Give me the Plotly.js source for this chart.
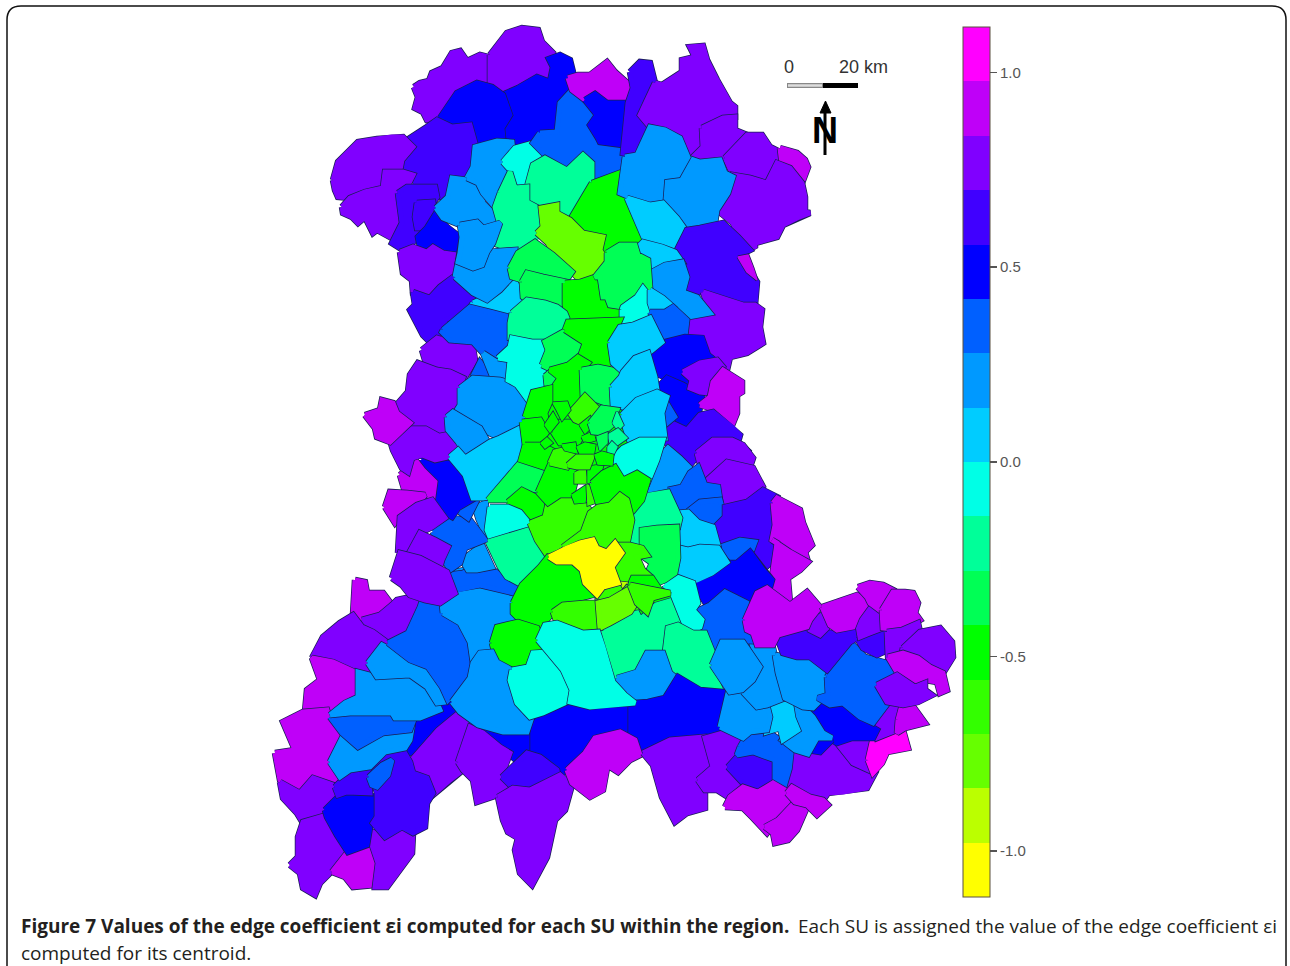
<!DOCTYPE html>
<html><head><meta charset="utf-8">
<script src="https://cdn.plot.ly/plotly-3.0.1.min.js"></script>
<style>html,body{margin:0;padding:0;background:#fff}#chart{width:1290px;height:966px}</style>
</head><body><div id="chart"></div>
<script>
const bandColors=['#ff00ff','#bf00f8','#8000ff','#4000ff','#0000ff','#0060ff','#0099ff','#00ccff','#00ffe6','#00ff99','#00ff55','#00ff00','#33ff00','#66ff00','#bbff00','#ffff00'];
const valueMax=1.1165, valueMin=-1.1175;
const colorTicks=[1,0.5,0,-0.5,-1];
const colorTickLabels=['1.0','0.5','0.0','-0.5','-1.0'];
const captionBold='Figure 7 Values of the edge coefficient εi computed for each SU within the region.';
const captionRest='Each SU is assigned the value of the edge coefficient εi';
const captionLine2='computed for its centroid.';
// each region: estimated coefficient, then its outline (x,y pairs)
const regions=[
[-.49,550,400,615,400,630,440,620,470,550,470,525,440],
[.77,414,87,420,83,429,81,432,73,443,68,452,53,460,51,467,61,480,55,492,58,490,73,492,85,477,83,460,92,450,108,437,120,427,120,423,112,415,108,418,97],
[.77,490,55,507,33,522,28,538,30,542,42,553,53,550,67,552,82,537,77,518,88,502,93,490,83],
[.49,502,95,518,88,537,77,550,82,553,67,549,59,560,55,570,60,573,72,569,80,572,90,560,103,560,120,557,132,540,133,533,143,512,142,502,128,510,113],
[.49,440,118,457,93,477,83,492,87,503,95,510,115,502,128,503,138,483,143,473,142,470,125,450,127],
[.63,427,127,437,120,452,127,470,125,475,143,473,167,467,177,452,178,447,197,437,197,435,187,417,187,413,175,400,170,402,160,413,147,407,140],
[.77,333,180,338,162,348,152,358,142,377,139,392,137,403,137,413,147,402,160,400,170,385,170,385,187,365,192,350,198,338,197,335,190],
[.77,342,207,350,198,365,192,383,188,385,172,403,172,413,175,407,187,398,193,402,220,398,232,390,237,377,230,373,233,365,217,358,223,352,217,343,213],
[.63,398,193,407,187,435,187,437,197,433,203,417,203,415,217,417,230,420,233,413,242,403,250,392,243,402,223],
[.63,417,203,433,202,435,217,427,228,417,228,415,217],
[.49,427,228,435,215,447,227,460,237,457,253,435,250,432,247,420,247,418,237],
[.77,400,252,413,247,427,252,433,247,443,253,457,255,457,277,440,287,430,297,413,293,412,280,403,273],
[.63,413,292,430,298,440,287,452,278,467,290,477,297,470,310,445,320,443,330,430,342,423,335,410,310,415,305],
[.21,436,208,448,197,452,178,467,180,478,185,483,203,497,217,492,225,483,228,477,222,460,225,443,218],
[.21,467,178,473,167,475,147,497,141,512,142,513,152,503,162,510,172,500,193,495,207,483,193,478,183],
[-.07,503,162,515,148,533,143,545,155,533,165,527,187,515,188,512,172],
[.35,540,133,557,132,560,103,572,90,585,102,597,115,590,125,598,138,620,145,622,145,623,172,592,183,592,163,583,155,567,170,545,155,533,143],
[-.21,527,187,533,165,545,158,567,170,583,155,592,163,592,183,573,218,557,213,557,205,540,208,527,202],
[-.21,500,193,510,172,515,188,527,187,527,202,542,210,542,227,535,240,528,250,513,250,493,243,500,225,495,207],
[-.49,592,183,620,172,622,172,620,193,628,208,645,238,635,245,617,247,608,253,600,242,603,237,583,233,570,220],
[-.77,537,233,543,227,541,208,557,205,557,213,570,220,583,233,603,237,600,250,607,262,595,277,580,280,570,270,553,253,548,243],
[.91,568,78,578,75,590,75,607,62,615,72,633,88,623,100,613,103,597,95,585,100,572,90],
[.49,585,100,595,94,607,103,613,103,628,103,623,145,600,142,598,138,590,125,597,115],
[.63,630,72,640,62,650,63,655,83,658,88,640,115,650,127,637,155,623,153,628,103,633,88],
[.77,655,83,662,85,682,72,682,60,695,57,690,47,703,46,707,60,717,80,730,103,735,107,735,117,723,118,702,128,703,147,695,155,688,155,680,137,662,127,650,127,640,115],
[.77,702,128,723,118,735,117,735,130,747,135,725,158,712,160,695,155,703,147],
[.77,725,158,747,135,762,135,770,147,780,152,777,162,767,183,747,177,733,175],
[.91,780,148,797,153,805,160,808,167,802,183,790,168,782,165],
[.77,717,210,732,187,733,175,750,178,767,183,777,163,790,168,802,183,805,197,805,212,810,213,797,218,783,225,777,237,755,243,755,248,738,237,733,223],
[.21,662,177,677,175,688,158,700,162,720,160,725,173,733,177,728,193,717,210,715,223,700,230,687,228,670,208,662,202,662,190],
[.21,625,157,637,155,650,127,665,130,680,138,688,157,678,175,662,177,660,202,648,205,632,198,620,193],
[.07,627,198,640,202,650,205,663,203,677,218,687,232,675,252,662,247,645,240],
[.63,677,250,687,230,700,228,723,223,738,237,750,250,740,255,747,267,757,282,755,305,743,305,703,292,683,293,687,270],
[.91,738,257,748,255,753,268,757,280,747,272],
[.07,637,248,643,242,662,247,675,252,682,262,665,265,650,272,648,260,638,255],
[.77,703,292,743,305,755,305,762,310,760,327,763,343,747,353,730,357,727,370,720,360,708,353,705,338,687,337,687,320,690,317,710,313],
[.21,650,273,665,265,682,262,687,277,683,292,697,297,710,313,688,317,673,305,663,297,650,290],
[.77,422,350,437,338,450,342,472,342,475,360,465,377,450,370,437,368,425,360],
[.07,473,303,500,290,513,278,522,295,525,307,512,317,490,312,470,308],
[.35,443,330,463,313,470,307,490,312,510,317,508,345,495,357,482,352,473,342,450,340,442,332],
[.21,455,277,458,262,473,268,482,265,487,252,515,250,512,277,500,290,487,300,473,293],
[.21,460,225,477,222,483,228,492,225,500,223,493,243,487,252,482,265,473,268,458,262,460,253,462,237],
[-.35,510,268,518,253,535,242,553,255,572,272,565,282,543,277,527,273,522,280,512,277],
[-.35,522,282,527,273,543,277,567,282,565,303,557,307,545,300,527,300,523,297],
[-.49,565,283,580,282,595,277,600,277,603,297,617,305,622,313,620,320,585,318,567,317,565,305],
[-.21,512,313,527,300,545,303,557,307,565,313,567,318,565,330,547,338,530,342,510,338,510,323],
[-.35,607,253,620,245,635,245,638,255,648,260,650,288,637,290,623,307,610,305,607,297,603,297,600,277,595,277,607,262],
[-.07,622,310,623,307,637,297,643,288,650,297,650,310,650,313,633,323,622,327],
[.07,650,290,663,298,673,307,665,312,653,312,650,303],
[.35,650,312,665,312,673,307,683,317,687,320,685,337,665,340,662,330,650,313],
[.49,650,360,655,348,665,342,685,337,702,338,708,355,717,362,700,363,683,372,692,380,683,385,667,378,655,373],
[.49,657,388,667,378,683,385,692,390,702,397,698,417,688,430,678,420,668,400],
[.77,683,372,700,363,717,360,723,367,715,382,710,393,700,392,690,388,692,380],
[.91,700,405,710,397,713,382,723,370,742,382,742,392,737,395,737,413,733,423,723,420,710,408],
[.63,663,432,672,423,687,430,700,415,713,412,732,427,740,435,738,442,750,453,700,453,690,465,680,457,673,448,665,442],
[.35,662,423,663,405,668,402,677,417,670,423,663,429],
[.77,697,453,713,440,732,440,743,445,753,458,750,467,727,462,717,473,705,483,700,465],
[.77,705,482,727,462,753,468,763,487,760,495,747,502,735,507,725,503,718,488],
[.21,650,493,655,470,663,453,668,448,680,458,690,468,688,478,682,488,668,487,660,497],
[.35,668,490,682,487,690,473,698,467,705,485,718,487,720,500,700,502,687,512,678,507],
[.35,687,512,700,502,720,500,725,518,713,527,697,522],
[.63,717,537,715,527,725,517,725,507,747,502,763,490,777,497,772,510,777,537,770,563,765,568,755,550,755,542,740,540,722,545],
[.35,720,547,740,540,755,542,752,550,737,563,728,555],
[.91,773,503,777,498,800,510,803,523,812,545,805,552,808,562,790,552,772,540,775,525],
[.91,772,540,790,552,808,562,800,570,785,580,788,580,790,603,770,597,772,577,777,543],
[.49,695,582,712,573,723,563,737,563,750,552,763,570,772,580,770,587,757,590,747,600,728,592,717,603,708,607,698,590],
[.35,695,612,710,605,725,592,747,603,755,643,743,640,723,642,713,650,705,632,693,632,702,620],
[.07,677,513,688,512,698,522,713,527,718,545,700,547,687,550,678,540],
[.07,677,563,680,548,688,550,700,547,718,548,727,562,712,573,697,580,687,583,677,573],
[-.07,665,585,677,577,693,583,698,603,693,610,702,620,700,627,690,632,678,620,670,598],
[-.21,628,537,632,523,642,497,650,495,668,492,680,518,678,527,657,527,642,530,640,547,635,545],
[-.35,642,548,642,530,657,528,677,527,678,558,675,573,665,580,658,583,648,572,652,563,638,553],
[-.21,602,633,630,613,638,600,650,604,668,598,678,623,668,628,668,642,665,653,648,653,637,670,617,675,612,683,612,668],
[-.21,665,653,668,628,678,625,693,633,705,633,713,653,712,670,720,688,700,690,682,678,673,677,668,660],
[.21,617,678,637,672,647,653,663,653,670,673,675,677,665,698,648,702,635,702,625,695,618,688],
[.49,623,710,635,703,648,702,665,698,678,677,700,690,723,692,723,710,720,735,705,737,687,740,670,740,647,752,638,753,633,740,623,733],
[.49,527,733,543,713,570,702,590,707,603,705,625,705,625,733,595,738,585,753,567,765,562,775,545,765,528,753],
[.49,478,725,487,727,503,732,527,732,527,753,518,762,508,753,497,743,480,730],
[.49,405,748,415,742,415,725,437,713,443,705,455,703,460,712,437,730,425,745,410,753],
[.77,410,762,425,745,438,730,460,712,470,723,467,733,460,757,463,770,450,780,433,795,427,777,413,773],
[.77,458,762,470,727,483,733,500,747,510,753,502,775,513,793,498,795,477,802,473,780,463,770],
[.63,502,777,518,762,527,753,540,757,557,770,558,775,530,790,513,788],
[.77,498,797,513,788,530,790,560,775,572,785,565,810,555,820,547,857,532,885,520,873,515,850,518,838,508,832,503,820],
[.91,567,770,585,753,595,738,620,732,635,740,640,755,630,760,618,772,610,767,607,768,603,790,590,797,572,783],
[.77,643,753,670,740,705,737,713,763,698,780,705,792,705,808,687,813,675,822,662,797,653,765],
[.77,698,780,713,767,705,738,723,733,738,740,740,747,728,763,735,773,740,787,728,797,717,790,705,790],
[.63,728,767,737,757,753,752,773,760,775,780,767,795,743,783],
[.35,740,747,748,733,765,730,780,740,795,752,797,767,790,780,785,790,775,783,775,760,753,752,737,755],
[.77,795,770,797,752,810,753,837,745,853,763,875,773,867,788,843,792,828,793,823,800,807,797,790,787],
[.77,837,743,853,738,872,738,873,747,868,760,875,773,853,763],
[1.05,868,760,873,738,903,730,908,748,887,752,882,763,873,773],
[.77,873,723,883,710,900,703,897,730,877,738],
[.91,898,720,902,705,912,705,925,723,905,728,897,733],
[.49,813,717,818,700,830,705,845,703,860,720,877,730,873,738,852,738,837,743,823,735],
[.49,808,750,817,737,832,740,820,752],
[.21,790,700,803,707,813,717,823,733,832,738,817,738,808,754,795,750,782,740,790,730,793,717],
[.07,767,707,790,700,793,718,798,730,783,740,780,728,767,732,770,717],
[.21,720,727,728,693,742,695,757,707,767,705,770,717,767,730,750,732,743,738,733,733],
[.21,743,692,760,667,753,647,773,648,780,677,785,698,767,705,757,707],
[.21,775,655,797,658,818,662,827,677,828,693,813,708,803,707,785,698,778,673],
[.21,712,665,722,642,743,642,760,667,753,680,742,690,730,692,722,680],
[.35,827,677,837,662,850,642,865,657,887,663,897,675,877,683,888,703,873,723,860,717,843,703,830,705,818,698,828,695],
[.63,777,637,797,625,810,632,837,633,855,627,857,638,850,642,837,657,827,670,810,657,797,657,783,653],
[.63,858,640,870,633,887,630,888,650,877,655,863,648],
[.77,857,620,870,603,882,612,883,628,870,633,860,637],
[.77,810,622,822,615,830,625,820,635,810,630],
[.91,745,620,757,593,767,588,783,600,790,605,807,592,820,607,810,620,807,627,778,635,773,645,757,645,753,633,747,630],
[.91,822,607,837,602,857,595,868,602,857,617,853,627,837,630,830,625],
[.91,858,587,870,583,883,585,893,590,882,612,870,603,867,597],
[.91,882,610,893,592,905,592,913,593,918,603,915,613,920,620,902,630,883,628],
[.77,887,632,902,630,918,623,920,632,903,648,888,655],
[.70,903,648,920,632,940,628,952,642,953,657,943,673,930,667,917,657,902,653],
[.91,888,657,903,653,918,658,930,667,943,673,947,690,940,693,937,682,925,680,915,687,897,672],
[.77,877,685,897,675,915,687,925,683,925,690,932,695,918,702,903,705,887,702],
[.91,725,807,730,797,743,787,758,792,773,783,785,790,790,803,777,820,767,833,753,818,743,808],
[.91,765,827,778,820,795,802,807,807,797,830,788,840,775,843,773,833],
[.91,787,793,792,787,810,797,823,800,828,805,817,815,807,805,795,802],
[.91,355,580,365,582,367,593,383,593,392,605,380,617,370,613,360,625,353,615],
[.77,362,620,380,615,392,605,397,600,420,595,418,608,408,632,387,642,373,630],
[.77,312,658,323,637,340,623,353,615,362,627,373,632,388,643,370,657,368,665,377,677,357,672,333,660],
[.91,305,712,307,690,320,680,312,658,333,662,357,673,358,698,328,710,313,713],
[.91,275,753,295,750,283,722,303,712,327,710,332,727,343,735,332,760,340,777,332,782,313,777,302,793,280,780,277,767],
[.77,280,782,300,793,313,778,333,785,338,795,325,803,325,817,303,823,297,813,283,798],
[.77,290,865,298,857,298,837,303,822,327,815,338,835,347,847,333,870,320,883,315,895,303,888,300,873],
[.91,332,872,347,853,372,845,378,863,375,885,353,887,345,877],
[.77,368,830,385,837,402,827,413,833,412,853,395,877,387,887,375,887,378,863,372,845],
[.49,325,810,337,798,347,792,377,797,378,813,370,827,367,845,348,852,337,835,327,817],
[.63,377,817,377,793,370,767,383,753,403,750,410,762,413,773,427,778,433,793,427,803,425,827,413,833,402,827,385,837,373,823],
[.63,335,787,350,772,368,767,370,793,347,792,338,795],
[.35,369,777,382,765,392,760,388,775,377,787,372,785],
[.21,330,762,342,738,358,747,383,733,412,728,410,740,405,748,385,752,370,767,350,770,340,777],
[.35,330,717,350,713,370,715,392,713,397,720,413,722,410,730,383,733,358,747,342,733],
[.21,330,715,345,703,358,697,358,672,377,677,403,673,420,680,437,703,440,710,420,718,395,718,392,713,350,713],
[.21,368,663,382,645,410,660,428,667,442,687,445,702,437,703,427,687,410,675,377,677],
[.35,388,643,408,633,420,607,423,598,438,600,442,612,445,620,460,623,470,642,467,670,467,680,448,700,442,687,428,667,410,660],
[.21,443,613,442,603,447,573,483,567,510,582,520,585,515,600,515,610,513,620,493,633,497,657,483,652,473,663,470,642,460,623],
[.28,447,575,463,573,483,563,503,577,520,585,513,593,480,585,457,590,450,590],
[.21,462,560,482,545,492,567,477,570,468,570],
[.21,473,507,487,500,490,523,485,538,477,520],
[.35,433,532,450,518,470,520,485,540,465,548,460,563,450,570,440,553],
[.35,457,510,468,500,477,500,472,510,468,518],
[.49,422,460,427,455,453,465,467,477,475,498,458,508,452,517,440,510,433,498,433,480,423,470],
[.91,400,475,410,467,413,457,423,470,435,482,433,497,405,492],
[.91,385,507,390,492,407,493,425,495,417,505,403,513,395,523],
[.77,398,553,400,517,417,505,432,500,445,518,432,527,420,533,408,555],
[.77,407,557,420,533,435,540,448,547,442,560,440,567,420,557],
[.77,392,578,400,553,420,558,440,568,447,572,455,593,440,603,425,600,410,595,402,585],
[.77,390,440,410,428,427,425,440,430,450,435,458,442,448,457,435,460,422,455,412,458,408,472,402,468,393,450],
[.77,395,407,408,392,410,375,418,363,437,370,450,372,463,378,458,393,460,405,445,413,450,428,440,430,427,423,410,423,397,413],
[.91,365,415,380,410,382,400,393,403,397,413,410,423,390,442,377,437,375,428],
[.35,472,378,480,362,492,377,483,385,477,382],
[.21,483,353,497,362,505,360,507,368,507,382,493,378],
[.21,460,388,473,378,500,380,517,385,528,405,520,423,500,438,483,430,475,423,455,413,460,405],
[.21,447,417,453,412,480,428,488,442,468,457,458,442,448,430],
[.07,450,457,458,450,465,458,490,442,500,438,520,428,523,433,518,463,513,473,490,497,483,498,473,498,465,475,457,465],
[-.07,498,358,510,347,512,338,532,342,548,342,542,367,548,377,545,387,528,400,517,385,508,380,510,360],
[-.35,542,365,548,350,545,342,563,332,585,343,578,357,568,367,548,368],
[-.35,544,375,550,370,560,378,555,385,545,385],
[-.49,565,330,568,322,620,320,610,343,615,362,598,367,580,357,585,343],
[-.49,550,400,555,385,560,378,550,370,568,365,578,357,588,363,582,370,583,397,570,405],
[-.35,582,370,598,367,613,370,621,377,612,390,610,405,597,400,583,397],
[.07,610,343,620,327,633,325,650,318,662,342,650,352,633,355,623,372,613,363],
[.07,612,387,621,377,623,372,635,358,648,353,655,377,657,390,637,398,627,408,613,405],
[.07,622,415,637,400,657,392,667,397,662,413,665,438,640,438,630,442,625,427],
[-.07,613,458,623,448,640,440,663,440,657,460,648,482,637,473,623,480,613,470],
[-.49,525,417,533,392,550,388,550,402,545,413,547,425,538,418],
[-.49,522,422,540,420,547,432,540,442,525,445],
[-.49,525,445,542,445,557,453,550,465,545,473,520,463],
[-.35,488,500,518,465,543,473,537,490,520,488,508,500],
[-.49,508,502,522,490,532,495,543,500,545,513,535,520,527,513,513,507],
[-.07,490,507,508,507,520,512,529,523,528,528,490,537,487,530],
[-.21,488,542,528,530,543,555,540,567,522,585,507,577,500,567],
[-.63,530,523,545,517,548,503,560,495,580,500,590,510,582,532,567,540,547,555,537,540],
[-.49,538,492,550,465,570,467,577,475,575,483,572,495,560,495,548,503],
[-.63,575,473,585,468,587,483,575,483],
[-.49,572,495,587,485,585,502,575,503],
[-.63,587,485,593,487,597,502,588,505],
[-.49,588,467,603,465,600,475,588,483],
[-.49,592,483,603,473,615,467,623,480,637,473,648,480,642,500,632,512,620,497,607,507,598,503],
[-.63,563,547,583,532,590,513,598,507,610,505,620,495,627,500,632,520,628,540,617,543,607,552,593,540],
[-.63,612,567,622,555,620,545,630,545,642,548,647,555,637,557,643,570,652,578,633,578,627,583,618,580],
[-.49,630,585,633,578,652,578,660,590,670,595,653,600,642,610,633,590],
[-.91,618,582,627,583,625,590,620,588],
[-.63,598,597,603,588,617,585,620,590,617,603,597,607],
[-.63,620,597,627,588,633,592,638,607,620,610,615,603],
[-.49,513,603,522,585,540,567,548,557,560,562,573,562,582,572,585,585,597,595,592,595,573,600,557,605,553,613,540,627,522,622,513,613],
[-.63,553,612,563,605,585,603,598,603,600,628,583,632,572,627,557,623],
[-.77,610,600,627,590,638,600,630,612,610,623,600,628,598,603],
[-.63,630,585,643,588,670,593,652,598,647,612,637,603],
[-.49,492,643,497,627,518,622,537,628,545,650,533,655,528,667,512,670,497,662],
[.21,452,702,470,678,473,663,480,653,492,652,497,662,512,670,517,703,532,717,527,732,503,732,478,725,460,712],
[-.07,512,670,528,667,533,653,547,652,563,670,572,690,567,702,543,713,530,717,517,703,510,680],
[-.07,538,640,545,625,557,623,570,628,583,633,598,632,603,647,613,682,625,695,635,703,603,705,590,707,570,702,572,690,563,670,547,650],
[-.49,553,432,560,422,575,422,582,435,578,443,560,443],
[-.63,570,413,585,396,597,408,582,423,575,420],
[-.49,553,403,567,402,570,410,562,420,557,410],
[-.49,545,425,553,413,558,422,550,432],
[-.49,580,425,590,417,593,425,585,433],
[-.49,582,437,593,432,595,440,585,443],
[-.35,590,423,602,408,617,410,612,425,603,433,593,432],
[-.21,613,423,617,412,623,425,618,430],
[-.21,608,435,618,429,627,438,617,445,610,443],
[-.35,597,437,607,433,607,443,600,450],
[-.21,608,447,612,442,617,447,613,455,608,452],
[-.49,541,443,547,438,552,443,545,448],
[-.63,550,463,555,452,563,450,573,455,567,467],
[-.49,562,445,575,443,577,453,565,450],
[-.49,577,447,585,443,595,445,593,457,582,458],
[-.63,568,465,577,457,592,457,588,467,577,467],
[-.49,595,455,602,452,613,455,612,465,598,464],
[-1.05,549,557,567,548,580,543,593,540,597,548,607,552,615,543,622,553,612,567,618,583,603,587,597,595,585,583,582,570,573,562,557,562]
];
const regionValues=regions.map(r=>r[0]);
const regionX=regions.map(r=>r.filter((_,i)=>i>0&&i%2===1));
const regionY=regions.map(r=>r.filter((_,i)=>i>0&&i%2===0));
const step=(valueMax-valueMin)/bandColors.length;
function colorOf(v){return bandColors[Math.min(bandColors.length-1,Math.max(0,Math.floor((valueMax-v)/step)))];}
const traces=[];
regions.forEach((r,i)=>{
 const small=regionX[i].length<=6&&Math.max(...regionX[i])-Math.min(...regionX[i])<20;
 const grow=small?1.5:5;
 const xs=regionX[i].concat(regionX[i][0]), ys=regionY[i].concat(regionY[i][0]);
 traces.push({type:'scatter',mode:'lines',x:xs,y:ys,line:{color:'rgb(25,30,85)',width:grow+1.5},hoverinfo:'skip',showlegend:false});
 traces.push({type:'scatter',mode:'lines',x:xs,y:ys,fill:'toself',fillcolor:colorOf(regionValues[i]),line:{color:colorOf(regionValues[i]),width:grow},hoverinfo:'skip',showlegend:false});
});
const scale=[];
bandColors.slice().reverse().forEach((c,i,a)=>{scale.push([i/a.length,c]);scale.push([(i+1)/a.length,c]);});
traces.push({type:'scatter',mode:'markers',x:[-50,-50],y:[-50,-50],hoverinfo:'skip',showlegend:false,
 marker:{color:[valueMin,valueMax],cmin:valueMin,cmax:valueMax,colorscale:scale,showscale:true,
 colorbar:{x:963/1290,xanchor:'left',xpad:0,y:1-462/966,yanchor:'middle',ypad:0,len:870/966,lenmode:'fraction',thickness:27,thicknessmode:'pixels',outlinewidth:1,outlinecolor:'#5a5040',tickmode:'array',tickvals:colorTicks,ticktext:colorTickLabels,ticks:'outside',ticklen:7,tickwidth:1.5,tickcolor:'#555',tickfont:{family:'Liberation Sans',size:15,color:'#555'}}}});
traces.push({type:'scatter',mode:'lines',x:[787,823],y:[85.5,85.5],line:{color:'#888',width:5},hoverinfo:'skip',showlegend:false});
traces.push({type:'scatter',mode:'lines',x:[788,822],y:[85.5,85.5],line:{color:'#ddd',width:2.5},hoverinfo:'skip',showlegend:false});
traces.push({type:'scatter',mode:'lines',x:[823,858],y:[85.5,85.5],line:{color:'#000',width:5},hoverinfo:'skip',showlegend:false});
traces.push({type:'scatter',mode:'lines',x:[825,825],y:[110,155],line:{color:'#000',width:3},hoverinfo:'skip',showlegend:false});
traces.push({type:'scatter',mode:'lines',x:[820,825.5,831,820],y:[113,101,113,113],fill:'toself',fillcolor:'#000',line:{color:'#000',width:1},hoverinfo:'skip',showlegend:false});
const ann=(x,y,text,size,family,color,anchor)=>({x,y,text,xref:'x',yref:'y',xanchor:anchor||'left',yanchor:'middle',showarrow:false,font:{family,size,color},align:'left'});
const layout={width:1290,height:966,margin:{l:0,r:0,t:0,b:0},paper_bgcolor:'#fff',plot_bgcolor:'#fff',showlegend:false,
 xaxis:{range:[0,1290],visible:false,fixedrange:true},yaxis:{range:[966,0],visible:false,fixedrange:true},
 annotations:[
  ann(19,926,'<b>'+captionBold+'</b>',19,'Open Sans','#231f20'),
  ann(796,926,captionRest,19,'Open Sans','#231f20'),
  ann(19,953,captionLine2,19,'Open Sans','#231f20'),
  ann(789,67,'0',18,'Liberation Sans','#333','center'),
  ann(863,67,'20 km',18,'Liberation Sans','#333','center'),
  ann(825,130,'<b>N</b>',36,'Liberation Sans','#000','center')
 ],
 shapes:[{type:'path',xref:'x',yref:'y',path:'M7,966 L7,20 Q7,6 21,6 L1272,6 Q1286,6 1286,20 L1286,966',line:{color:'#111',width:1.5}}]
};
Plotly.newPlot('chart',traces,layout,{displayModeBar:false,staticPlot:true});
</script></body></html>
